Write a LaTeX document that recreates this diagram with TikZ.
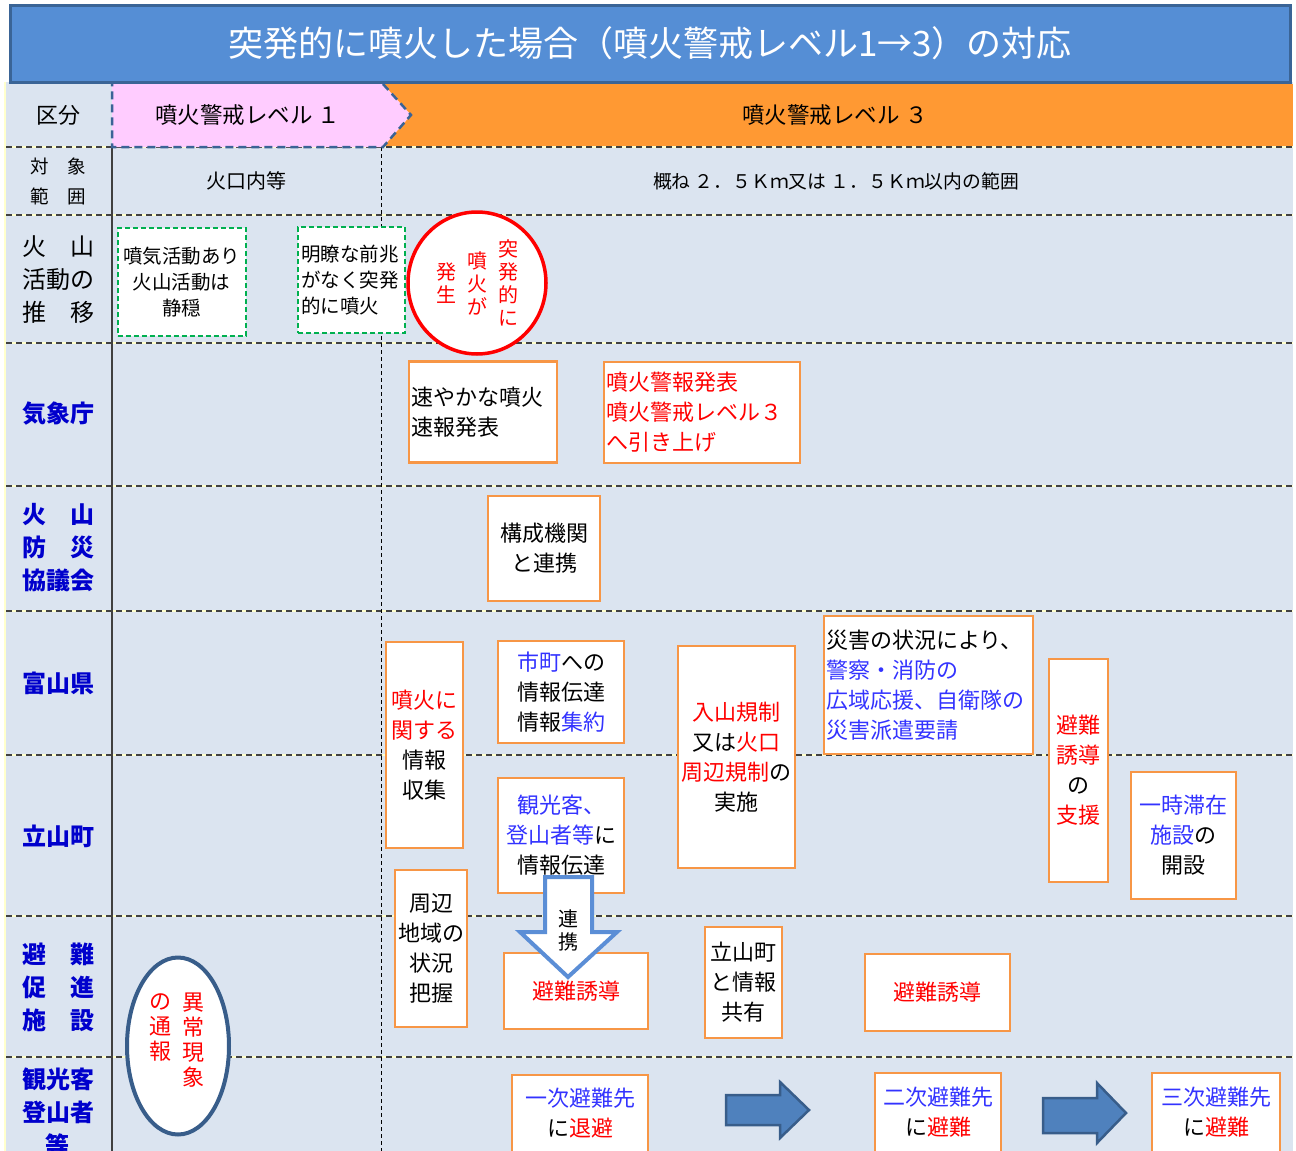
\documentclass[tikz,border=0pt]{standalone}
\usepackage{fontspec}
\setmainfont{Noto Sans CJK JP}
\usetikzlibrary{shapes.geometric}
\definecolor{bgblue}{HTML}{DBE4F0}
\definecolor{titleblue}{HTML}{558ED5}
\definecolor{titleedge}{HTML}{3A6496}
\definecolor{pinkfill}{HTML}{FFCCFF}
\definecolor{pinkedge}{HTML}{3B6396}
\definecolor{orangefill}{HTML}{FF9933}
\definecolor{boxorange}{HTML}{F79646}
\definecolor{labblue}{HTML}{0000CC}
\definecolor{txtblue}{HTML}{3333FF}
\definecolor{txtred}{HTML}{FF0000}
\definecolor{gridline}{HTML}{404040}
\definecolor{paleyel}{HTML}{FFFFCC}
\definecolor{greenedge}{HTML}{00B050}
\definecolor{arrowfill}{HTML}{4F81BD}
\definecolor{arrowedge}{HTML}{385D8A}
\definecolor{darrow}{HTML}{5B8ED6}
\newcommand{\txb}[1]{\textcolor{txtblue}{#1}}
\newcommand{\txr}[1]{\textcolor{txtred}{#1}}
\begin{document}
\begin{tikzpicture}[x=1pt,y=-1pt,
  obox/.style={draw=boxorange, line width=2.5pt, fill=white, align=center, inner sep=1pt, font=\fontsize{22}{30}\selectfont},
  gbox/.style={draw=greenedge, dash pattern=on 5pt off 3pt, line width=2pt, fill=white, align=center, inner sep=1pt, font=\fontsize{19.5}{26}\selectfont},
  lab/.style={align=center, inner sep=0pt, font=\bfseries\fontsize{24}{33}\selectfont, text=labblue},
  blab/.style={align=center, inner sep=0pt, font=\fontsize{24}{33}\selectfont, text=black},
  vtxt/.style={align=center, inner sep=0pt, font=\fontsize{20}{23}\selectfont},
  rowline/.style={draw=gridline, line width=1.5pt, dash pattern=on 6pt off 4pt},
  blockarrow/.style={fill=arrowfill, draw=arrowedge, line width=2.5pt, line join=miter}
]
\useasboundingbox (0,0) rectangle (1296,1151);
\clip (0,0) rectangle (1296,1151);
\fill[white] (0,0) rectangle (1296,1151);
% table background
\fill[bgblue] (6,82) rectangle (1293,1151);
\draw[paleyel, line width=2pt] (5,82) -- (5,1151);
% header orange
\fill[orangefill] (382,84) rectangle (1293,146);
% row lines
\foreach \yy in {147,215,343,486,611,755,916,1057}{
  \draw[paleyel, line width=1.5pt] (6,\yy) -- (1293,\yy);
  \draw[rowline] (6,\yy) -- (1293,\yy);
}
% vertical lines
\draw[gridline, line width=1.5pt] (112,147) -- (112,1151);
\draw[black, line width=1pt, dash pattern=on 4pt off 3pt] (381,147) -- (381,1151);
% pink level-1 pentagon
\fill[pinkfill] (112,84) -- (383,84) -- (411,115) -- (383,147) -- (112,147) -- cycle;
\draw[pinkedge, line width=2.5pt, dash pattern=on 8pt off 5pt] (383,84) -- (411,115) -- (383,147) -- (112,147) -- (112,84);
% title
\node[draw=titleedge, line width=3pt, fill=titleblue, minimum width=1280pt, minimum height=77pt, inner sep=0pt, text=white, font=\fontsize{35}{40}\selectfont] (title) at (650,43.5) {突発的に噴火した場合（噴火警戒レベル1→3）の対応};
% header texts
\node[inner sep=0pt, font=\fontsize{22}{26}\selectfont] (kubun) at (58,115) {区分};
\node[inner sep=0pt, font=\fontsize{22.5}{26}\selectfont] (lv1) at (248,115) {噴火警戒レベル １};
\node[inner sep=0pt, font=\fontsize{22.5}{26}\selectfont] (lv3) at (835,115) {噴火警戒レベル ３};
% left labels
\node[align=center, inner sep=0pt, font=\fontsize{18.5}{30}\selectfont] (taisho) at (58,181) {対　象\\範　囲};
\node[blab] (suii) at (58,280) {火　山\\活動の\\推　移};
\node[lab] (jma) at (58,414) {気象庁};
\node[lab] (kyogi) at (58,548) {火　山\\防　災\\協議会};
\node[lab] (toyama) at (58,683) {富山県};
\node[lab] (tateyama) at (58,836) {立山町};
\node[lab] (sokushin) at (58,987) {避　難\\促　進\\施　設};
\node[lab] (tourist) at (58,1112) {観光客\\登山者\\等};
% range row
\node[inner sep=0pt, font=\fontsize{20}{24}\selectfont] (kako) at (246,181) {火口内等};
\node[inner sep=0pt, font=\fontsize{18.8}{24}\selectfont] (range) at (836,181) {概ね ２．５Ｋｍ又は １．５Ｋｍ以内の範囲};
% volcano activity
\node[gbox, minimum width=128pt, minimum height=108pt] (g1) at (181.5,282) {噴気活動あり\\火山活動は\\静穏};
\node[gbox, minimum width=107pt, minimum height=106pt, align=left, text width=101pt] (g2) at (351.5,280) {明瞭な前兆\\がなく突発\\的に噴火};
\node[ellipse, draw=txtred, line width=3.5pt, fill=white, minimum width=138pt, minimum height=142pt] (erupt) at (477,283) {};
\node[vtxt, text=txtred] (e1) at (508,283) {突\\発\\的\\に};
\node[vtxt, text=txtred] (e2) at (477,283) {噴\\火\\が};
\node[vtxt, text=txtred] (e3) at (446,283) {発\\生};
% JMA
\node[obox, minimum width=148pt, minimum height=101pt, align=left, text width=144pt] (jma1) at (483,412) {速やかな噴火\\速報発表};
\node[obox, minimum width=196pt, minimum height=101pt, align=left, text width=192pt, text=txtred] (jma2) at (702,412.5) {噴火警報発表\\噴火警戒レベル３\\へ引き上げ};
% council
\node[obox, minimum width=112pt, minimum height=105pt] (council) at (544,548.5) {構成機関\\と連携};
% Toyama
\node[obox, minimum width=77pt, minimum height=206pt] (info) at (424.5,745) {\txr{噴火に}\\\txr{関する}\\情報\\収集};
\node[obox, minimum width=126pt, minimum height=102pt] (shicho) at (561,692) {\txb{市町}への\\情報伝達\\情報\txb{集約}};
\node[obox, minimum width=117pt, minimum height=222pt] (nyuzan) at (736.5,757) {\txr{入山規制}\\又は\txr{火口}\\\txr{周辺規制}の\\実施};
\node[obox, minimum width=209pt, minimum height=138pt, align=left, text width=205pt] (saigai) at (928.5,685) {災害の状況により、\\\txb{警察・消防の}\\\txb{広域応援、自衛隊の}\\\txb{災害派遣要請}};
\node[obox, minimum width=59pt, minimum height=223pt] (shien) at (1078.5,770.5) {\txr{避難}\\\txr{誘導}\\の\\\txr{支援}};
\node[obox, minimum width=105pt, minimum height=127pt] (taizai) at (1183.5,835.5) {\txb{一時滞在}\\\txb{施設}の\\開設};
% Tateyama
\node[obox, minimum width=126pt, minimum height=115pt] (kanko) at (561,835.5) {\txb{観光客、}\\\txb{登山者等}に\\情報伝達};
\node[obox, minimum width=72pt, minimum height=157pt] (shuhen) at (431,948.5) {周辺\\地域の\\状況\\把握};
% evacuation facilities
\node[obox, minimum width=144pt, minimum height=76pt] (yudo1) at (576,991) {\txr{避難誘導}};
\node[obox, minimum width=77pt, minimum height=111pt] (kyoyu) at (743.5,982.5) {立山町\\と情報\\共有};
\node[obox, minimum width=145pt, minimum height=77pt] (yudo2) at (937.5,992.5) {\txr{避難誘導}};
% ellipse report
\node[ellipse, draw=arrowedge, line width=4pt, fill=white, minimum width=102pt, minimum height=177pt] (tsuho) at (178,1046) {};
\node[vtxt, anchor=north, text=txtred, font=\fontsize{22}{25}\selectfont] (t1) at (193,993) {異\\常\\現\\象};
\node[vtxt, anchor=north, text=txtred, font=\fontsize{22}{25}\selectfont] (t2) at (160,993) {の\\通\\報};
% tourists
\node[obox, minimum width=136pt, minimum height=77pt] (ichiji) at (580,1113.5) {\txb{一次避難先}\\に\txr{退避}};
\node[obox, minimum width=126pt, minimum height=79pt] (niji) at (938,1112.5) {\txb{二次避難先}\\に\txr{避難}};
\node[obox, minimum width=128pt, minimum height=79pt] (sanji) at (1216,1112.5) {\txb{三次避難先}\\に\txr{避難}};
% block arrows
\draw[blockarrow] (726,1095) -- (780,1095) -- (780,1082) -- (809,1110) -- (780,1138) -- (780,1125) -- (726,1125) -- cycle;
\draw[blockarrow] (1043,1098) -- (1097,1098) -- (1097,1083) -- (1126,1113) -- (1097,1143) -- (1097,1133) -- (1043,1133) -- cycle;
% down arrow
\draw[fill=white, draw=darrow, line width=4pt, line join=miter] (545,877) -- (592,877) -- (592,932) -- (617,932) -- (568,977) -- (520,932) -- (545,932) -- cycle;
\node[vtxt] (renkei) at (568,930.5) {連\\携};
\end{tikzpicture}
\end{document}
